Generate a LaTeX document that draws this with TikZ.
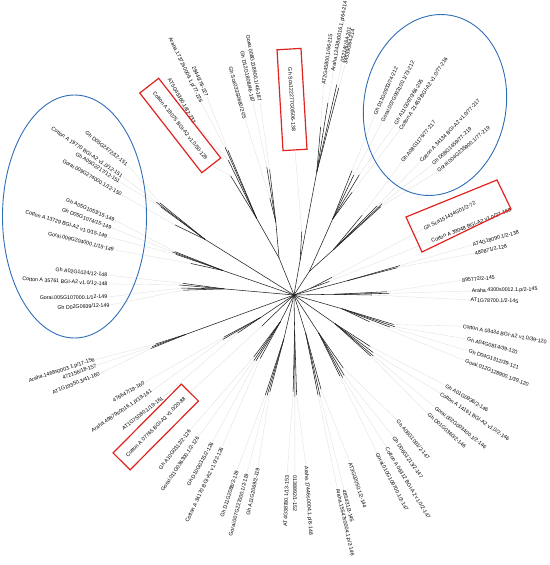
\documentclass[tikz,border=0pt]{standalone}
\usepackage{fontspec}
\setmainfont{Liberation Sans}
\definecolor{boxred}{HTML}{E0231F}
\definecolor{loopblue}{HTML}{2F6EB5}
\definecolor{linegrey}{HTML}{E2E2E2}
\definecolor{treecol}{HTML}{222222}

\begin{document}
\begin{tikzpicture}[x=1pt, y=1pt,
  twig/.style={treecol, line width=0.55pt},
  leafline/.style={linegrey, line width=0.4pt},
  leafR/.style={anchor=west, inner sep=0.6pt, font=\fontsize{5.3}{6}\selectfont},
  leafL/.style={anchor=east, inner sep=0.6pt, font=\fontsize{5.3}{6}\selectfont},
  boxleaf/.style={draw=boxred, line width=1.2pt, minimum height=24pt, inner sep=0pt, font=\fontsize{5.3}{6}\selectfont},
  blueloop/.style={loopblue, line width=0.9pt}]
\useasboundingbox (-294,-270) rectangle (255,295);

% inner nodes of the tree
\coordinate (O) at (0,0);
\coordinate (n12) at (80:35);   \coordinate (c1) at (79.5:125);
\coordinate (n3) at (57:28);    \coordinate (c3a) at (63:85);  \coordinate (c3b) at (49:60);
\coordinate (c4) at (22:18);    \coordinate (c5) at (15:55);   \coordinate (c6) at (1:40);
\coordinate (c7) at (-16:50);   \coordinate (c8) at (-35:50);  \coordinate (c9) at (-57:45);
\coordinate (c10) at (-73:40);  \coordinate (c11) at (-89:35); \coordinate (c12) at (-103:45);
\coordinate (c13) at (-117:30); \coordinate (c15) at (-146:40); \coordinate (c16) at (-160:115);
\coordinate (c17) at (175:70);  \coordinate (c18) at (161:75); \coordinate (c19) at (148:105);
\coordinate (n20) at (112:40);  \coordinate (c20) at (116:85); \coordinate (c21) at (104:75);

\draw[twig] (O) -- (n12) -- (c1);
\draw[twig] (O) -- (n3) -- (c3a);
\draw[twig] (n3) -- (c3b);
\draw[twig] (O) -- (n20) -- (c20);
\draw[twig] (n20) -- (c21);
\foreach \c in {c4,c5,c6,c7,c8,c9,c10,c11,c12,c13,c15,c16,c17,c18,c19}
  \draw[twig] (O) -- (\c);

% leaves on the right half
\foreach \ta/\tr/\cl/\la/\lr/\txt [count=\i] in {
  81/170/c1/82/212/{AT2G45800.1/66-215},
  80/195/c1/80/226/{Araha.12438s0016.1.p/64-214},
  78.5/215/c1/78.3/237/{052141/64-201},
  77.8/212/c1/77.5/236/{345390/64-214},
  65/137/c3a/65.8/197/{Gh D11G0933/74-212},
  63.5/134/c3a/63/194/{Gorai.007G093100.1/73-212},
  61.5/137/c3a/59.3/198/{Gh A11G0970/66-205},
  60.5/118/c3a/57.3/196/{Cotton A 21459 BGI-A2 v1.0/77-216},
  49.5/105/c3b/51/171/{Gh A08G1176/77-217},
  47/122/c3b/46.5/183/{Cotton A 34134 BGI-A2 v1.0/77-217},
  46/127/c3b/43.3/190/{Gh D08G1459/77-219},
  45.5/124/c3b/40.7/189/{Gorai.004G235900.1/77-219},
  25/42/c4/27/145/{Gh Sca151434G01/2-72},
  21/38/c4/21.5/147/{Cotton A 39048 BGI-A2 v1.0/27-168},
  15.5/110/c5/15.7/185/{AT4G18090.1/2-138},
  14.8/107/c5/13/185/{480871/2-128},
  2/93/c6/5/168/{895772/2-145},
  1/95/c6/1.3/177/{Araha.4300s0012.1.p/2-145},
  0/78/c6/-1.6/176/{AT1G78700.1/2-145},
  -16.5/104/c7/-10.5/171/{Cotton A 03434 BGI-A2 v1.0/39-120},
  -17.5/106/c7/-14.3/178/{Gh A04G0814/39-120},
  -18.5/101/c7/-17.8/183/{Gh D04G1312/39-121},
  -19.5/80/c7/-21/183/{Gorai.012G128900.1/39-120},
  -34/92/c8/-30.8/176/{Gh A01G0936/2-146},
  -36/98/c8/-33.9/176/{Cotton A 14161 BGI-A2 v1.0/2-146},
  -37.5/100/c8/-38.5/180/{Gorai.002G003400.1/2-146},
  -38.5/98/c8/-41.6/179/{Gh D01G0360/2-146},
  -56/88/c9/-50.5/162/{Gh A06G1091/2-147},
  -58/95/c9/-55/173/{Gh D06G1213/2-147},
  -59.5/96/c9/-58.8/178/{Cotton A 06312 BGI-A2 v1.0/2-147},
  -60.5/93/c9/-62.3/178/{Gorai.010G109700.1/2-147},
  -74/98/c10/-71.5/176/{AT3G02050.1/2-144},
  -75.5/105/c10/-75.6/201/{485431/3-145},
  -76.5/103/c10/-77.4/198/{Araha.15547s0004.1.p/2-146},
  -88.5/100/c11/-86/171/{Araha.17446s0004.1.p/8-148},
  -89.5/102/c11/-89.7/180/{0138892/1-152}}{
  \draw[twig] (\cl) -- (\ta:\tr) coordinate (tR\i);
  \node[leafR, rotate=\la] (lR\i) at (\la:\lr) {\txt};
  \draw[leafline] (tR\i) -- (lR\i.west);
}

% leaves on the left half
\foreach \ta/\tr/\cl/\la/\lr/\txt [count=\i] in {
  -90.5/97/c11/-92.2/180/{AT4G38780.1/13-153},
  -104/100/c12/-101.8/176/{Gh A11G2069/2-119},
  -105/104/c12/-104.8/184/{Gorai.007G227000.1/2-119},
  -106/104/c12/-108/184/{Gh D11G2088/2-119},
  -118/72/c13/-115.3/168/{Cotton A 34170 BGI-A2 v1.0/2-126},
  -120/76/c13/-119/168/{Gh D10G0315/2-126},
  -121.5/77/c13/-124/171/{Gorai.011G036300.1/2-126},
  -123/74/c13/-127.6/170/{Gh A10G0312/2-126},
  -146/68/c15/-142/166/{AT1G75080.1/19-161},
  -148/84/c15/-146/171/{Araha.49879s0016.1.p/19-161},
  -149/82/c15/-149.7/173/{476647/19-160},
  -159.5/153/c16/-158/209/{AT1G19350.3/41-160},
  -160/151/c16/-160.4/209/{472156/18-157},
  -160.5/147/c16/-162/209/{Araha.1468s0003.1.p/17-156},
  177.5/111/c17/-176.9/184/{Gh D02G0939/12-149},
  176.5/113/c17/-179.4/186/{Gorai.005G107000.1/12-149},
  175/115/c17/176.6/186/{Cotton A 35761 BGI-A2 v1.0/12-148},
  174/112/c17/173.9/187/{Gh A02G1024/12-148},
  163/108/c18/165.9/185/{Gorai.009G204000.1/15-149},
  161/125/c18/162.7/195/{Cotton A 13729 BGI-A2 v1.0/15-149},
  160.5/129/c18/159.8/194/{Gh D05G1074/15-149},
  160/127/c18/157.3/194/{Gh A05G1053/15-149},
  149.5/138/c19/149.8/199/{Gorai.009G274000.1/12-150},
  146.5/160/c19/147/207/{Gh A05G2217/12-151},
  146/166/c19/145.4/208/{Cotton A 19770 BGI-A2 v1.0/12-151},
  145.5/163/c19/142/211/{Gh D05G2472/12-151},
  116/150/c20/120/198/{AT5G45360.1/82-232},
  115/163/c20/115.8/213/{Araha.17372s0006.1.p/77-226},
  114.5/159/c20/113.7/216/{28445/78-227},
  104/100/c21/105.6/182/{Gh Sca033S0660/2-05},
  102/131/c21/102/196/{Gh D12G1808/46-187},
  101/128/c21/100/196/{Gorai.008G218900.1/46-187}}{
  \draw[twig] (\cl) -- (\ta:\tr) coordinate (tL\i);
  \node[leafL, rotate=\la+180] (lL\i) at (\la:\lr) {\txt};
  \draw[leafline] (tL\i) -- (lL\i.east);
}

% boxed single leaves
\draw[twig] (n12) -- (83:64) coordinate (tSca);
\node[boxleaf, minimum width=101pt, rotate=-86.6] (bSca) at (-2,195.5) {Gh Sca122277G0/506-138};
\draw[leafline] (tSca) -- (bSca.east);
\draw[twig] (c20) -- (118:135) coordinate (tA18);
\node[boxleaf, minimum width=101pt, rotate=-52.1] (bA18) at (-113.75,169.5) {Cotton A 18075 BGI-A2 v1.0/50-128};
\draw[leafline] (tA18) -- (bA18.east);
\draw[twig] (O) -- (-136:45) coordinate (tA07);
\node[boxleaf, minimum width=97pt, rotate=45.2] (bA07) at (-138.25,-132) {Cotton A 07765 BGI-A2 v1.0/20-88};
\draw[leafline] (tA07) -- (bA07.east);

% box round the two leaves on the right
\draw[boxred, line width=1.2pt] (112,78) -- (128,43) -- (217,86) -- (203,115) -- cycle;

% the two groups
\draw[blueloop, rotate around={-10:(141,190)}] (141,190) ellipse (71pt and 91pt);
\draw[blueloop] (-219.5,78.5) ellipse (72pt and 121.5pt);
\end{tikzpicture}
\end{document}
